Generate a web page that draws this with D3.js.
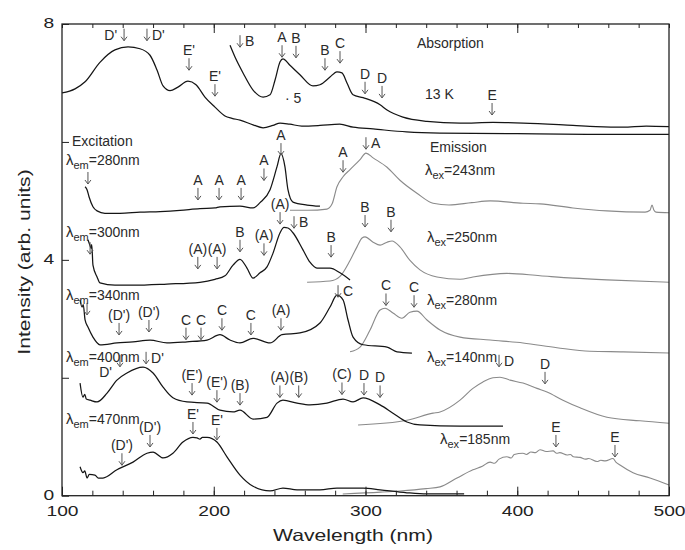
<!DOCTYPE html>
<html>
<head>
<script src="https://d3js.org/d3.v7.min.js"></script>
<style>
  body{margin:0;background:#fff;font-family:"Liberation Sans",Arial,Helvetica,sans-serif;}
</style>
</head>
<body>
<div id="chart"></div>
<script>
// spectra, [wavelength nm, intensity]
var absBase = [[100,6.83],[108.6,6.90],[115.2,7.02],[125,7.35],[134.9,7.56],[143.5,7.61],[151.4,7.58],[158,7.47],[162.6,7.22],[166.6,6.95],[171.2,6.87],[176.4,6.93],[183,7.03],[188.3,6.97],[194.2,6.76],[200.8,6.59],[207.4,6.44],[212,6.40],[217.3,6.37],[225.9,6.29],[232.5,6.24],[239,6.28],[243.7,6.32],[250.2,6.30],[258,6.27],[270,6.28],[283,6.30],[291.8,6.25],[305,6.22],[327,6.17],[349,6.15],[400,6.14],[450,6.13],[500,6.13]]
var absX5 = [[210.7,7.64],[214,7.44],[219.3,7.17],[225.9,6.88],[232.5,6.76],[237.1,6.80],[240.4,7.05],[243.7,7.36],[245.6,7.41],[250.2,7.30],[256.8,7.14],[265.4,6.95],[270,6.97],[276.6,7.10],[281.2,7.19],[284.5,7.17],[287.8,7.00],[291.8,6.80],[298.4,6.75],[309.6,6.63],[314.2,6.54],[324.7,6.42],[340.5,6.35],[362.3,6.32],[384,6.33],[403.8,6.32],[436.7,6.28],[452,6.26],[469.7,6.25],[485,6.27],[500,6.26]]
var em280 = [[115.2,5.24],[116.5,5.19],[117.8,5.07],[120.4,4.90],[123.1,4.83],[128.3,4.79],[138.2,4.79],[151.4,4.81],[164.6,4.82],[177.8,4.84],[190.9,4.87],[200.8,4.88],[204.1,4.90],[217.3,4.91],[225.9,4.88],[230.5,4.97],[237.1,5.19],[241.7,5.58],[244.3,5.80],[246.9,5.58],[248.9,5.19],[252.2,4.98],[261.5,4.93],[270,4.91]]
var ex243 = [[250.2,4.84],[262,4.84],[274.6,4.86],[278,4.95],[281.2,5.24],[285.2,5.41],[289.8,5.53],[296.4,5.70],[300.3,5.81],[305,5.73],[314.2,5.57],[322.7,5.35],[333.9,5.13],[344.5,4.96],[355,4.93],[370,4.97],[382.1,5.00],[403.8,4.96],[415,4.95],[436.7,4.88],[459.1,4.83],[484.2,4.81],[487.5,4.84],[488.8,4.93],[490.1,4.84],[491.4,4.81],[500,4.80]]
var em300 = [[117.1,4.34],[118.5,4.24],[119.1,4.20],[119.6,4.26],[120.4,3.91],[123.1,3.71],[125,3.61],[134.9,3.57],[146.8,3.57],[169.2,3.59],[190.9,3.62],[200.8,3.67],[207.4,3.73],[212.7,3.91],[217.3,4.01],[221.9,3.86],[225.9,3.69],[230.5,3.78],[235.1,3.88],[239,4.11],[243.7,4.46],[246.3,4.55],[248.9,4.54],[252.2,4.46],[258.8,4.17],[263.4,3.96],[268,3.86],[276.6,3.86],[283.2,3.78],[289.8,3.66]]
var ex250 = [[261.5,3.62],[276.6,3.64],[283.2,3.72],[289.8,3.99],[294.4,4.22],[297.7,4.37],[299.7,4.39],[305,4.30],[309.6,4.25],[314.2,4.30],[317.5,4.32],[322.7,4.22],[329.3,3.99],[335.9,3.83],[347.1,3.71],[362.3,3.67],[370.8,3.71],[393.2,3.77],[415,3.73],[436.7,3.69],[459.1,3.66],[500,3.62]]
var em340 = [[111.9,3.32],[113.2,3.20],[114,3.24],[115.2,2.98],[117.1,2.86],[120.4,2.69],[125,2.56],[136.2,2.59],[146.8,2.61],[158,2.64],[169.2,2.59],[182.4,2.61],[195.6,2.64],[204.1,2.73],[210.7,2.64],[217.3,2.59],[225.9,2.67],[237.1,2.59],[245,2.73],[256.8,2.76],[270,2.93],[276.6,3.20],[281.2,3.40],[285.2,3.32],[288.5,2.98],[291.8,2.69],[298.4,2.56],[314.2,2.52],[320.8,2.44],[330.6,2.42]]
var ex280 = [[289.8,2.44],[296.4,2.52],[303,2.81],[309.6,3.15],[312.9,3.18],[318.1,3.10],[324,3.01],[329.3,3.11],[333.9,3.13],[340.5,2.98],[349.1,2.81],[362.3,2.69],[382.1,2.64],[403.8,2.59],[426.2,2.51],[447.9,2.45],[469.7,2.44],[500,2.42]]
var em400 = [[111.9,1.91],[113.8,1.67],[115,1.72],[116,1.64],[118.5,1.62],[123.1,1.59],[129.7,1.74],[136.2,1.96],[142.8,2.08],[153.4,2.18],[160,2.08],[166.6,1.84],[173.1,1.66],[182.4,1.59],[195.6,1.57],[204.1,1.45],[212.7,1.42],[217.3,1.45],[225.9,1.30],[235.1,1.33],[241.7,1.57],[245.6,1.62],[254.9,1.57],[263.4,1.54],[274.6,1.57],[285.2,1.64],[291.8,1.59],[298.4,1.66],[309.6,1.54],[318.1,1.40],[327.3,1.25],[335.9,1.20],[362.3,1.18],[390.6,1.18]]
var ex140 = [[295.1,1.20],[327.3,1.28],[344.5,1.40],[349.1,1.42],[362.3,1.62],[370.8,1.82],[377.4,1.93],[384,2.00],[388.6,2.01],[395.2,1.96],[403.8,1.91],[413,1.82],[419.6,1.76],[430.1,1.62],[441.4,1.49],[459.1,1.33],[480.9,1.27],[500,1.23]]
var em470 = [[111.9,0.49],[113.8,0.39],[115,0.42],[116.5,0.30],[118,0.36],[121.7,0.35],[124,0.30],[127,0.30],[136.2,0.44],[146.8,0.57],[156,0.72],[160,0.74],[166.6,0.64],[173.1,0.72],[179.7,0.91],[186.3,0.99],[189,0.98],[190.9,0.96],[192.5,0.99],[195.6,0.99],[202.1,0.91],[208.7,0.66],[217.3,0.35],[225.9,0.16],[237.1,0.08],[245.6,0.13],[254.9,0.10],[270,0.10],[281.2,0.13],[298.4,0.13],[309.6,0.10],[327.3,0.05],[340.5,0.03],[365,0.03]]
var ex185 = [[285,0.03],[310,0.06],[322.7,0.08],[340,0.12],[349.1,0.15],[360.3,0.30],[370.8,0.44],[377,0.50],[382.1,0.57],[385,0.55],[388,0.62],[393.2,0.66],[396,0.64],[398,0.70],[403.8,0.72],[406,0.70],[409,0.74],[412,0.73],[415,0.78],[419,0.75],[423.6,0.76],[426,0.72],[428,0.73],[432.8,0.69],[435,0.70],[437,0.66],[441.4,0.65],[445,0.62],[447,0.63],[452.6,0.58],[455,0.60],[458,0.59],[463.1,0.63],[465,0.57],[467.7,0.52],[476.3,0.39],[487.5,0.30],[500,0.18]]

var blackCurves = [absBase, absX5, em280, em300, em340, em400, em470]
var grayCurves = [ex243, ex250, ex280, ex140, ex185]

// peak markers: label, wavelength, arrow top, label side (t top, r right, l left, b lower left, n none)
var annLabel = ["D'","D'","E'","E'","B","A","B","B","C","D","D","E",
  "","A","A","A","A","A","A","A",
  "","(A)","(A)","B","(A)","(A)","B","B","B","B",
  "","(D')","(D')","C","C","C","C","(A)","C","C","C",
  "D'","D'","(E')","(E')","(B)","(A)","(B)","(C)","D","D","D","D",
  "(D')","(D')","E'","E'","E","E"]
var annX = [140.9,156,183.7,200.8,217.3,245,254.2,273.3,283.2,299.7,310.9,383.4,
  117.1,189.6,203.5,218,233.1,244.3,285.2,300.3,
  118.5,189.5,202.2,217.3,233.1,243.7,252.9,277.3,299.7,316.8,
  116.5,137.6,157.3,181.7,191.6,205.4,224.5,244.3,281.9,313.5,332,
  155.4,138.2,185.7,202.1,217.3,243.6,256,284.5,299,309.6,388,418.3,
  139.5,158,186.3,202.1,425.5,464.4]
var annY = [7.92,7.92,7.42,6.98,7.81,7.64,7.63,7.42,7.54,7.02,6.95,6.66,
  5.49,5.22,5.22,5.22,5.55,5.98,5.69,6.08,
  4.30,4.05,4.05,4.34,4.28,4.81,4.74,4.25,4.76,4.68,
  3.27,2.93,2.98,2.85,2.85,3.01,2.93,3.01,3.57,3.43,3.40,
  2.44,2.39,1.91,1.79,1.74,1.87,1.87,1.92,1.91,1.87,2.39,2.10,
  0.72,1.03,1.25,1.15,1.03,0.86]
var annSide = ["l","r","t","t","r","t","t","t","t","t","t","t",
  "n","t","t","t","t","t","t","r",
  "n","t","t","t","t","t","r","t","t","t",
  "n","t","t","t","t","t","t","t","r","t","t",
  "r","b","t","t","t","t","t","t","t","t","r","t",
  "t","t","t","t","t","t"]

// plain labels
var noteText = ["Absorption","13 K","Excitation","Emission","· 5"]
var noteX = [333.9,339.2,106.6,342.5,246.9]
var noteY = [7.59,6.72,5.93,5.83,6.66]

// lambda labels
var lamSub = ["em","em","em","em","em","ex","ex","ex","ex","ex"]
var lamVal = ["=280nm","=300nm","=340nm","=400nm","=470nm","=243nm","=250nm","=280nm","=140nm","=185nm"]
var lamX = [102.6,102.6,102.6,102.6,102.6,339.2,340.5,340.5,340.5,349.1]
var lamY = [5.61,4.39,3.32,2.27,1.21,5.44,4.30,3.23,2.27,0.87]

var W = 685, H = 550
var x = d3.scaleLinear().domain([100,500]).range([62,669])
var y = d3.scaleLinear().domain([0,8]).range([495.7,24])

var svg = d3.select("#chart").append("svg").attr("width",W).attr("height",H)

var line = d3.line().x(function(d){return x(d[0])}).y(function(d){return y(d[1])}).curve(d3.curveMonotoneX)

grayCurves.forEach(function(c){
  svg.append("path").attr("d",line(c)).attr("fill","none").attr("stroke","#8a8a8a").attr("stroke-width",1.1)
})
blackCurves.forEach(function(c){
  svg.append("path").attr("d",line(c)).attr("fill","none").attr("stroke","#151515").attr("stroke-width",1.25)
})

// axes
var stretch = "scale(1.28,1)"
var minorX = d3.range(100,501,20)
svg.append("g").attr("transform","translate(0,"+y(0)+")")
  .call(d3.axisBottom(x).tickValues(minorX).tickSize(-5).tickFormat(""))
svg.append("g").attr("transform","translate(0,"+y(0)+")")
  .call(d3.axisBottom(x).tickValues([100,200,300,400,500]).tickSize(-9).tickPadding(10).tickFormat(d3.format("d")))
svg.append("g").attr("transform","translate(0,"+y(8)+")")
  .call(d3.axisTop(x).tickValues(minorX).tickSize(-4).tickFormat(""))
svg.append("g").attr("transform","translate(0,"+y(8)+")")
  .call(d3.axisTop(x).tickValues([200,300,400]).tickSize(-9).tickFormat(""))
var yAx = svg.append("g").attr("transform","translate("+x(100)+",0)")
  .call(d3.axisLeft(y).tickValues([0,2,4,6,8]).tickSize(-7).tickPadding(8).tickFormat(function(d){return d%4===0?d:""}))

svg.selectAll(".domain").remove()
svg.selectAll(".tick line").attr("stroke","#222").attr("stroke-width",1)
svg.selectAll(".tick text").attr("font-family","Liberation Sans, Arial, sans-serif")
  .attr("font-size",15).attr("fill","#222").attr("transform",stretch)
yAx.selectAll(".tick text").attr("x",-6.2).attr("dy","0.25em")

svg.append("rect").attr("x",x(100)).attr("y",y(8)).attr("width",x(500)-x(100)).attr("height",y(0)-y(8))
  .attr("fill","none").attr("stroke","#222").attr("stroke-width",1.3)

svg.append("text").attr("transform","translate(353,541) "+stretch).attr("text-anchor","middle")
  .attr("font-size",16.5).attr("fill","#222").text("Wavelength (nm)")
svg.append("text").attr("transform","translate(30,262) rotate(-90) "+stretch).attr("text-anchor","middle")
  .attr("font-size",16.5).attr("fill","#222").text("Intensity (arb. units)")

// peak arrows
var ann = svg.append("g").attr("font-size",14).attr("fill","#2a2a2a")
annLabel.forEach(function(t,i){
  var px = x(annX[i]), py = y(annY[i])
  ann.append("path")
    .attr("d","M"+px+","+py+"V"+(py+12)+"M"+(px-3)+","+(py+8)+"L"+px+","+(py+12)+"L"+(px+3)+","+(py+8))
    .attr("fill","none").attr("stroke","#555").attr("stroke-width",1)
  var s = annSide[i]
  if(s=="n") return
  var tx = ann.append("text").text(t)
  if(s=="t") tx.attr("x",px).attr("y",py-3).attr("text-anchor","middle")
  if(s=="r") tx.attr("x",px+5).attr("y",py+11).attr("text-anchor","start")
  if(s=="l") tx.attr("x",px-7).attr("y",py+11).attr("text-anchor","end")
  if(s=="b") tx.attr("x",px-8).attr("y",py+22).attr("text-anchor","end")
})

var notes = svg.append("g").attr("font-size",14).attr("fill","#2a2a2a")
noteText.forEach(function(t,i){
  notes.append("text").attr("x",x(noteX[i])).attr("y",y(noteY[i])).text(t)
})

lamSub.forEach(function(s,i){
  var tx = notes.append("text").attr("x",x(lamX[i])).attr("y",y(lamY[i]))
  tx.append("tspan").attr("font-size",15).text("λ")
  tx.append("tspan").attr("font-size",11).attr("dy",4).text(s)
  tx.append("tspan").attr("dy",-4).text(lamVal[i])
})
</script>
</body>
</html>
